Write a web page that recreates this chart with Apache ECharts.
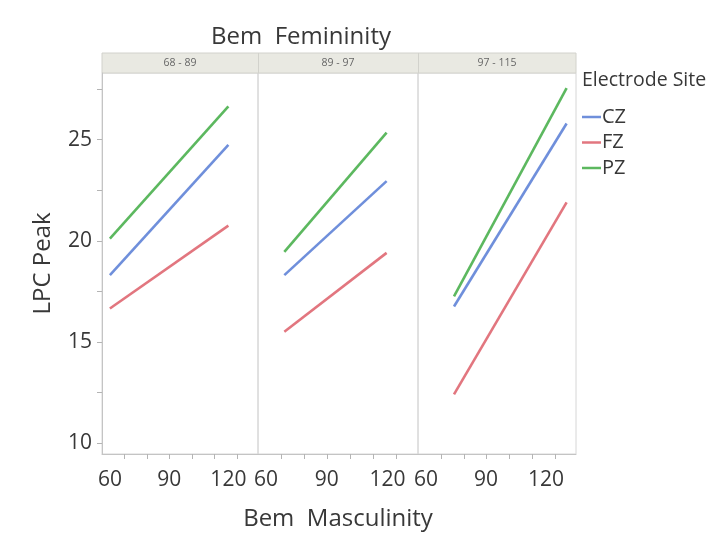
<!DOCTYPE html>
<html>
<head>
<meta charset="utf-8">
<script src="https://cdn.jsdelivr.net/npm/echarts@6/dist/echarts.min.js"></script>
<style>
  html, body { margin: 0; padding: 0; background: #ffffff; }
  #chart { width: 720px; height: 533px; }
</style>
</head>
<body>
<div id="chart"></div>
<script>
// Femininity bands (one panel each) and electrode sites (one line each)
const femininityBands = ['68 - 89', '89 - 97', '97 - 115'];
const sites = ['CZ', 'FZ', 'PZ'];
const siteColors = ['#6f8fdb', '#e2767f', '#5cb85f'];

// Bem Masculinity at the start and end of each fitted line, per panel
const mascRange = [[60, 120], [69, 119.5], [74, 130.3]];

// LPC Peak at the start and end of each line, per panel
const lpcCZ = [[18.3, 24.75], [18.3, 22.95], [16.75, 25.8]];
const lpcFZ = [[16.65, 20.75], [15.5, 19.4], [12.4, 21.9]];
const lpcPZ = [[20.1, 26.65], [19.45, 25.35], [17.25, 27.55]];
const lpcBySite = [lpcCZ, lpcFZ, lpcPZ];

// Axis ticks and labels
const xLabelValues = [60, 90, 120];
const xTickValues = [67.5, 79, 90, 101.5, 113, 124.5];
const yLabelValues = [10, 15, 20, 25];
const yTickValues = [10, 12.5, 15, 17.5, 20, 22.5, 25, 27.5];

const textColor = '#383838';
const fontFamily = '"Open Sans", "Noto Sans", sans-serif';
const frameColor = '#d6d6d6';

const panelLeft = [102, 258, 418];
const panelWidth = [156, 160, 158];
const plotTop = 73;
const plotBottom = 79;

const grids = [], xAxes = [], yAxes = [], series = [];
femininityBands.forEach((band, p) => {
  grids.push({
    left: panelLeft[p], width: panelWidth[p], top: plotTop, bottom: plotBottom,
    outerBoundsMode: 'none', containLabel: false,
    show: true, borderColor: frameColor, borderWidth: 1, backgroundColor: 'transparent'
  });
  xAxes.push({
    type: 'value', gridIndex: p, min: 56, max: 135,
    name: p === 1 ? 'Bem  Masculinity' : '',
    nameLocation: 'middle', nameGap: 53,
    nameTextStyle: { fontSize: 24, color: textColor, fontFamily },
    axisLine: { show: true, lineStyle: { color: '#c4c4c4', width: 1 } },
    axisTick: { show: true, length: 5, customValues: xTickValues, lineStyle: { color: '#b4b4b4' } },
    axisLabel: { customValues: xLabelValues, fontSize: 21, color: textColor, fontFamily, margin: 16 },
    splitLine: { show: false }
  });
  yAxes.push({
    type: 'value', gridIndex: p, min: 9.45, max: 28.3,
    name: p === 0 ? 'LPC Peak' : '',
    nameLocation: 'middle', nameGap: 47,
    nameTextStyle: { fontSize: 24, color: textColor, fontFamily },
    axisLine: { show: p === 0, lineStyle: { color: '#c4c4c4', width: 1 } },
    axisTick: p === 0
      ? { show: true, length: 5, customValues: yTickValues, lineStyle: { color: '#b4b4b4' } }
      : { show: false },
    axisLabel: p === 0
      ? { customValues: yLabelValues, fontSize: 21, color: textColor, fontFamily, margin: 10 }
      : { show: false },
    splitLine: { show: false }
  });
  sites.forEach((site, s) => {
    const vals = lpcBySite[s][p];
    series.push({
      name: site, type: 'line', xAxisIndex: p, yAxisIndex: p,
      symbol: 'none', silent: true,
      lineStyle: { color: siteColors[s], width: 2.6 },
      itemStyle: { color: siteColors[s] },
      data: [[mascRange[p][0], vals[0]], [mascRange[p][1], vals[1]]]
    });
  });
});

// Panel header strip with the femininity band labels
const stripTop = 53, stripHeight = 20;
const graphics = [
  {
    type: 'rect', shape: { x: 102, y: stripTop, width: 474, height: stripHeight },
    style: { fill: '#e9e9e2', stroke: '#d2d2cc', lineWidth: 1 }, silent: true
  }
];
femininityBands.forEach((band, p) => {
  if (p > 0) {
    graphics.push({
      type: 'line', shape: { x1: panelLeft[p] + 0.5, y1: stripTop, x2: panelLeft[p] + 0.5, y2: stripTop + stripHeight },
      style: { stroke: '#d2d2cc', lineWidth: 1 }, silent: true
    });
  }
  graphics.push({
    type: 'text', x: panelLeft[p] + panelWidth[p] / 2, y: stripTop + stripHeight / 2,
    style: { text: band, fontSize: 10.5, fill: '#666666', fontFamily, align: 'center', verticalAlign: 'middle' },
    silent: true
  });
});
graphics.push({
  type: 'text', x: 301, y: 37,
  style: { text: 'Bem  Femininity', fontSize: 24, fill: textColor, fontFamily, align: 'center', verticalAlign: 'middle' },
  silent: true
});
graphics.push({
  type: 'text', x: 582, y: 80,
  style: { text: 'Electrode Site', fontSize: 19.5, fill: textColor, fontFamily, align: 'left', verticalAlign: 'middle' },
  silent: true
});

const chart = echarts.init(document.getElementById('chart'), null, { renderer: 'canvas' });
chart.setOption({
  animation: false,
  backgroundColor: '#ffffff',
  textStyle: { fontFamily },
  grid: grids,
  xAxis: xAxes,
  yAxis: yAxes,
  legend: {
    data: sites, orient: 'vertical', left: 582, top: 107, padding: 0,
    icon: 'rect', itemWidth: 19, itemHeight: 2.5, itemGap: 5.5,
    textStyle: { fontSize: 20, lineHeight: 20, color: textColor, fontFamily, padding: [0, 0, 0, -4] },
    selectedMode: false
  },
  graphic: graphics,
  series
});
</script>
</body>
</html>
